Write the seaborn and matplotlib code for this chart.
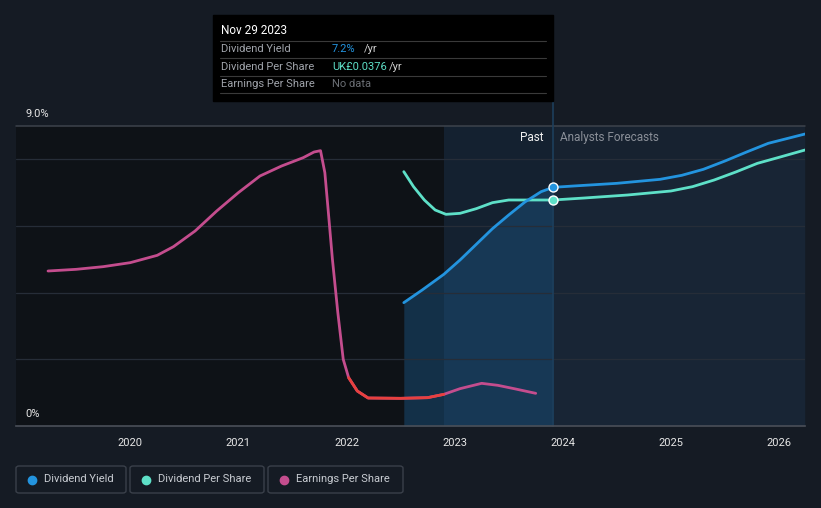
import pandas as pd
import seaborn as sns
import matplotlib.pyplot as plt
from matplotlib.patches import FancyBboxPatch, Rectangle
from matplotlib.lines import Line2D

# Values (x = decimal year, y = position on the % axis)
yield_years = [2022.53, 2022.70, 2022.90, 2023.05, 2023.20, 2023.35, 2023.50, 2023.65, 2023.80, 2023.91,
               2024.10, 2024.50, 2024.90, 2025.10, 2025.30, 2025.50, 2025.70, 2025.90, 2026.24]
yield_pct = [3.70, 4.08, 4.55, 4.98, 5.45, 5.92, 6.33, 6.72, 7.03, 7.16,
             7.20, 7.28, 7.40, 7.52, 7.70, 7.95, 8.22, 8.48, 8.76]

dps_years = [2022.53, 2022.62, 2022.72, 2022.82, 2022.92, 2023.05, 2023.20, 2023.35, 2023.50, 2023.70, 2023.91,
             2024.20, 2024.60, 2025.00, 2025.20, 2025.40, 2025.60, 2025.80, 2026.00, 2026.24]
dps_level = [7.63, 7.18, 6.78, 6.48, 6.35, 6.38, 6.52, 6.70, 6.78, 6.78, 6.78,
             6.84, 6.93, 7.05, 7.18, 7.38, 7.62, 7.88, 8.06, 8.28]

eps_years = [2019.24, 2019.50, 2019.75, 2020.00, 2020.25, 2020.40, 2020.60, 2020.80, 2021.00, 2021.20,
             2021.40, 2021.60, 2021.70, 2021.76, 2021.80, 2021.83, 2021.87, 2021.92, 2021.97, 2022.02,
             2022.10, 2022.20, 2022.50, 2022.75, 2022.90, 2023.05, 2023.25, 2023.40, 2023.55, 2023.75]
eps_level = [4.65, 4.70, 4.78, 4.90, 5.12, 5.38, 5.85, 6.45, 7.00, 7.50,
             7.80, 8.05, 8.22, 8.26, 7.60, 6.50, 5.00, 3.40, 2.00, 1.45,
             1.05, 0.84, 0.83, 0.85, 0.95, 1.12, 1.28, 1.22, 1.12, 0.98]

year_ticks = [2020, 2021, 2022, 2023, 2024, 2025, 2026]
past_start = 2022.9
today = 2023.91
x_min, x_max = 2018.944, 2026.24

blue = '#2394df'
teal = '#5ee0c8'
magenta = '#c44d8e'
red = '#e8403e'
bg = '#151b24'

sns.set_theme(style='dark')
plt.rcParams['font.family'] = ['Roboto', 'DejaVu Sans']

fig = plt.figure(figsize=(8.21, 5.08), dpi=100, facecolor=bg)
W, H = 821, 508


def fx(px):
    return px / W


def fy(py):
    return 1 - py / H


ax = fig.add_axes([fx(16), 82 / H, 789 / W, 300 / H])
ax.set_facecolor('#0e1217')
ax.set_xlim(x_min, x_max)
ax.set_ylim(0, 9)

# background bands
ax.axvspan(past_start, today, color='#142130', lw=0, zorder=0)
ax.axvspan(today, x_max, color='#172230', lw=0, zorder=0)

# area under past dividend yield
yield_df = pd.DataFrame({'year': yield_years, 'pct': yield_pct})
past = yield_df[yield_df['year'] <= today]
ax.fill_between(past['year'], 0, past['pct'], color='#1b5684', alpha=0.45, lw=0, zorder=1)
fut = yield_df[yield_df['year'] >= today]
ax.fill_between(fut['year'], 0, fut['pct'], color='#1f3a55', alpha=0.15, lw=0, zorder=1)

# grid
for g in [2, 4, 6, 8]:
    ax.axhline(g, color='#262d38', lw=0.9, zorder=1)
ax.axhline(9, color='#3d434c', lw=1.1, zorder=1, clip_on=False)

# today marker line
ax.plot([today, today], [0, 9.82], color='#1d3f5c', lw=1.2, zorder=2, clip_on=False)

# lines
sns.lineplot(x=eps_years, y=eps_level, ax=ax, color=magenta, lw=2.0, zorder=3)
eps_df = pd.DataFrame({'year': eps_years, 'val': eps_level})
low = eps_df[(eps_df['year'] >= 2021.99) & (eps_df['year'] <= 2022.93)]
sns.lineplot(data=low, x='year', y='val', ax=ax, color=red, lw=2.0, zorder=3)
sns.lineplot(x=dps_years, y=dps_level, ax=ax, color=teal, lw=2.0, zorder=4)
sns.lineplot(x=yield_years, y=yield_pct, ax=ax, color=blue, lw=2.0, zorder=4)

ax.scatter([today], [7.16], s=42, color=blue, edgecolor='white', lw=1, zorder=6)
ax.scatter([today], [6.78], s=42, color=teal, edgecolor='white', lw=1, zorder=6)

ax.set_xlabel('')
ax.set_ylabel('')
ax.set_yticks([])
ax.set_xticks(year_ticks)
ax.set_xticklabels([str(y) for y in year_ticks])
ax.tick_params(axis='x', colors='#4a4f58', labelcolor='#e6e6e6', labelsize=8, length=4, width=1, pad=5)
for s in ['top', 'right', 'left']:
    ax.spines[s].set_visible(False)
ax.spines['bottom'].set_color('#4a4f58')
ax.spines['bottom'].set_linewidth(1.2)

ax.text(2023.82, 8.65, 'Past', color='#f0f0f0', fontsize=8.5, ha='right', va='center', zorder=7)
ax.text(2023.97, 8.65, 'Analysts Forecasts', color='#8a8f98', fontsize=8.5, ha='left', va='center', zorder=7)

fig.text(fx(25), fy(114), '9.0%', color='#e6e6e6', fontsize=8, va='center')
fig.text(fx(25), fy(414), '0%', color='#e6e6e6', fontsize=8, va='center')

# tooltip
fig.add_artist(Rectangle((fx(213), fy(101)), 340 / W, 86 / H, transform=fig.transFigure,
                         color='black', zorder=10))
fig.text(fx(221), fy(30), 'Nov 29 2023', color='white', fontsize=8.5, va='center', zorder=11)
for ly in [40.5, 58, 75.5, 93]:
    fig.add_artist(Line2D([fx(220), fx(546)], [fy(ly), fy(ly)], transform=fig.transFigure,
                          color='#3a3a3a', lw=0.8, zorder=11))
rows = [('Dividend Yield', '7.2%', blue, 364), ('Dividend Per Share', 'UK£0.0376', teal, 389),
        ('Earnings Per Share', 'No data', '#6b6f75', None)]
for i, (lab, val, col, unit_x) in enumerate(rows):
    y = fy(49 + i * 17.5)
    fig.text(fx(221), y, lab, color='#a0a4ab', fontsize=8, va='center', zorder=11)
    fig.text(fx(332), y, val, color=col, fontsize=8, va='center', zorder=11)
    if unit_x:
        fig.text(fx(unit_x), y, '/yr', color='#d0d0d0', fontsize=8, va='center', zorder=11)

# legend
legend_items = [('Dividend Yield', blue, 16, 126), ('Dividend Per Share', teal, 130, 264),
                ('Earnings Per Share', magenta, 268, 403)]
for lab, col, x0, x1 in legend_items:
    fig.add_artist(FancyBboxPatch((fx(x0), fy(493)), (x1 - x0) / W, 27 / H, transform=fig.transFigure,
                                  boxstyle='round,pad=0,rounding_size=0.004', fc='none',
                                  ec='#3a404a', lw=1))
    fig.add_artist(Line2D([fx(x0 + 16)], [fy(479.5)], transform=fig.transFigure, marker='o',
                          markersize=6, color=col, lw=0))
    fig.text(fx(x0 + 28), fy(479.5), lab, color='#c8ccd2', fontsize=8, va='center')

fig.savefig('out.png', dpi=100, facecolor=bg)
